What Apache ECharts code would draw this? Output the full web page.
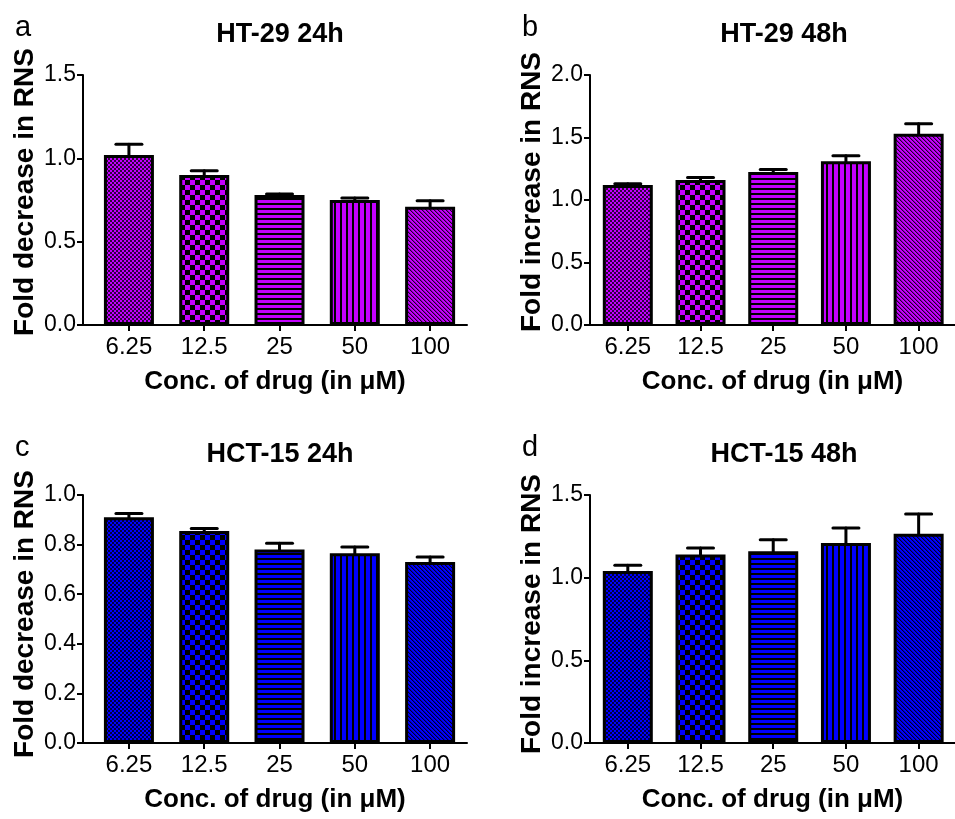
<!DOCTYPE html>
<html>
<head>
<meta charset="utf-8">
<script src="https://cdn.jsdelivr.net/npm/echarts@6/dist/echarts.min.js"></script>
<style>
  html, body { margin: 0; padding: 0; background: #fff; }
  #chart { width: 955px; height: 819px; }
</style>
</head>
<body>
<div id="chart"></div>
<script>
// concentrations (µM)
const categories = ['6.25', '12.5', '25', '50', '100'];

// HT-29 24h
const ht24Mean = [1.02, 0.90, 0.78, 0.75, 0.71];
const ht24Err = [0.065, 0.025, 0.006, 0.012, 0.035];
// HT-29 48h
const ht48Mean = [1.12, 1.16, 1.225, 1.31, 1.53];
const ht48Err = [0.01, 0.02, 0.02, 0.045, 0.08];
// HCT-15 24h
const hct24Mean = [0.91, 0.855, 0.78, 0.765, 0.73];
const hct24Err = [0.015, 0.01, 0.025, 0.025, 0.02];
// HCT-15 48h
const hct48Mean = [1.04, 1.14, 1.16, 1.21, 1.265];
const hct48Err = [0.035, 0.04, 0.07, 0.09, 0.12];

// y axis: min, max, step
const yTicksA = [0, 1.5, 0.5];
const yTicksB = [0, 2.0, 0.5];
const yTicksC = [0, 1.0, 0.2];
const yTicksD = [0, 1.5, 0.5];

const purple = '#c400ff';
const blue = '#0000ff';
const font = 'Liberation Sans, Arial, sans-serif';

// fill patterns, one per concentration
const patternKinds = ['fine', 'check', 'hline', 'vline', 'diag'];
function makePattern(kind, color) {
    const c = document.createElement('canvas');
    let w = 4, h = 4;
    if (kind === 'check') { w = 10; h = 10; }
    if (kind === 'hline') { w = 1; h = 5; }
    if (kind === 'vline') { w = 6; h = 1; }
    c.width = w; c.height = h;
    const ctx = c.getContext('2d');
    ctx.fillStyle = color;
    ctx.fillRect(0, 0, w, h);
    for (let x = 0; x < w; x++) {
        for (let y = 0; y < h; y++) {
            let dark = 0;
            if (kind === 'fine') dark = ((x >> 1) + (y >> 1)) % 2 ? 0.75 : 0;
            if (kind === 'check') dark = (Math.floor(x / 5) + Math.floor(y / 5)) % 2;
            if (kind === 'hline') dark = y >= 3 ? 1 : 0;
            if (kind === 'vline') dark = x >= 4 ? 1 : 0;
            if (kind === 'diag') {
                const m = (((x - y) % 4) + 4) % 4;
                dark = m === 0 ? 0.85 : (m === 1 ? 0.3 : 0);
            }
            if (dark > 0) {
                ctx.fillStyle = 'rgba(0,0,0,' + dark + ')';
                ctx.fillRect(x, y, 1, 1);
            }
        }
    }
    return { image: c, repeat: 'repeat' };
}

const panels = [
    { letter: 'a', title: 'HT-29 24h', yName: 'Fold decrease in RNS', mean: ht24Mean, err: ht24Err, ticks: yTicksA, color: purple,
      grid: { left: 83, top: 75, width: 384, height: 250 }, xmin: -0.61, xmax: 4.49, lift: 16 },
    { letter: 'b', title: 'HT-29 48h', yName: 'Fold increase in RNS', mean: ht48Mean, err: ht48Err, ticks: yTicksB, color: purple,
      grid: { left: 590, top: 75, width: 378, height: 250 }, xmin: -0.52, xmax: 4.5, lift: 16 },
    { letter: 'c', title: 'HCT-15 24h', yName: 'Fold decrease in RNS', mean: hct24Mean, err: hct24Err, ticks: yTicksC, color: blue,
      grid: { left: 83, top: 495, width: 384, height: 248 }, xmin: -0.61, xmax: 4.49, lift: 10 },
    { letter: 'd', title: 'HCT-15 48h', yName: 'Fold increase in RNS', mean: hct48Mean, err: hct48Err, ticks: yTicksD, color: blue,
      grid: { left: 590, top: 495, width: 378, height: 248 }, xmin: -0.52, xmax: 4.5, lift: 10 }
];

const catIdx = categories.map((c, i) => i);

const option = {
    animation: false,
    backgroundColor: '#fff',
    title: [],
    grid: [],
    xAxis: [],
    yAxis: [],
    series: []
};

panels.forEach((p, k) => {
    option.grid.push(p.grid);
    option.title.push({
        text: p.title,
        left: p.grid.left + p.grid.width / 2,
        top: p.grid.top - 59,
        textAlign: 'center',
        textStyle: { fontFamily: font, fontSize: 27, fontWeight: 'bold', color: '#000' }
    });
    option.title.push({
        text: p.letter,
        left: p.grid.left - 73,
        top: p.grid.top - 67,
        textStyle: { fontFamily: font, fontSize: 29, fontWeight: 'normal', color: '#000' }
    });
    option.xAxis.push({
        type: 'value',
        gridIndex: k,
        min: p.xmin,
        max: p.xmax,
        name: 'Conc. of drug (in μM)',
        nameLocation: 'middle',
        nameGap: 44,
        nameTextStyle: { fontFamily: font, fontSize: 26, fontWeight: 'bold', color: '#000' },
        splitLine: { show: false },
        axisLine: { onZero: false, lineStyle: { color: '#000', width: 2 } },
        axisTick: { customValues: catIdx, length: 6, lineStyle: { color: '#000', width: 2 } },
        axisLabel: {
            customValues: catIdx,
            formatter: v => categories[Math.round(v)],
            fontFamily: font, fontSize: 24, color: '#000', margin: 10
        }
    });
    option.yAxis.push({
        type: 'value',
        gridIndex: k,
        min: p.ticks[0],
        max: p.ticks[1],
        interval: p.ticks[2],
        name: p.yName,
        nameLocation: 'middle',
        nameGap: 44,
        nameTextStyle: { fontFamily: font, fontSize: 28, fontWeight: 'bold', color: '#000', padding: [0, 0, 0, p.lift] },
        splitLine: { show: false },
        axisLine: { show: true, onZero: false, lineStyle: { color: '#000', width: 2 } },
        axisTick: { show: true, length: 6, lineStyle: { color: '#000', width: 2 } },
        axisLabel: {
            formatter: v => v.toFixed(1),
            fontFamily: font, fontSize: 23, color: '#000', margin: 7
        }
    });
    option.series.push({
        type: 'custom',
        xAxisIndex: k,
        yAxisIndex: k,
        z: 1,
        encode: { x: 0, y: 1 },
        data: p.mean.map((m, i) => [i, m, p.err[i]]),
        renderItem: function (params, api) {
            const x = api.value(0), m = api.value(1), e = api.value(2);
            const p0 = api.coord([x, m]);
            const p1 = api.coord([x, m + e]);
            const st = { stroke: '#000', lineWidth: 3, lineCap: 'round' };
            return {
                type: 'group',
                children: [
                    { type: 'line', shape: { x1: p0[0], y1: p0[1], x2: p1[0], y2: p1[1] }, style: st },
                    { type: 'line', shape: { x1: p1[0] - 13, y1: p1[1], x2: p1[0] + 13, y2: p1[1] }, style: st }
                ]
            };
        }
    });
    option.series.push({
        type: 'bar',
        xAxisIndex: k,
        yAxisIndex: k,
        z: 2,
        barWidth: 50,
        data: p.mean.map((m, i) => ({
            value: [i, m],
            itemStyle: { color: makePattern(patternKinds[i], p.color), borderColor: '#000', borderWidth: 3 }
        }))
    });
});

const chart = echarts.init(document.getElementById('chart'));
chart.setOption(option);
</script>
</body>
</html>
